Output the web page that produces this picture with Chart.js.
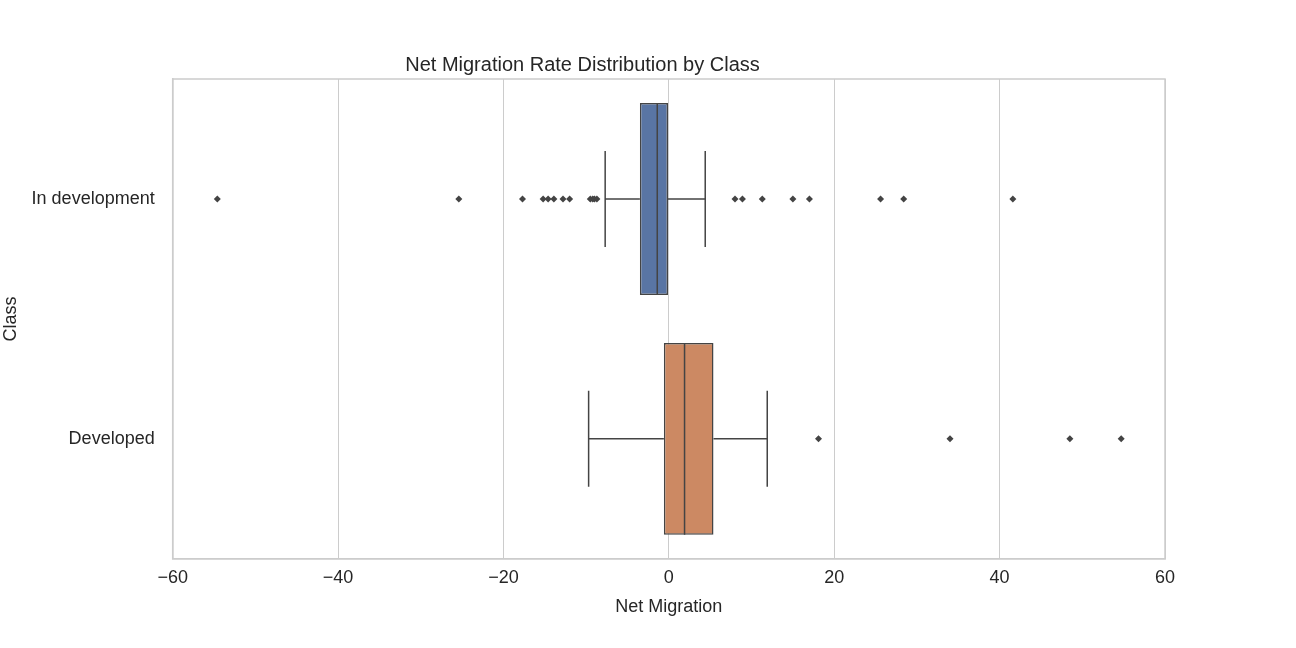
<!DOCTYPE html>
<html><head><script src="https://cdn.jsdelivr.net/npm/chart.js@4"></script>
<style>body{margin:0;background:#fff}#w{width:1296px;height:648px}</style></head>
<body><div id="w"><canvas id="c"></canvas></div>
<script>
const categories = ['In development', 'Developed'];
const q1 = [-3.5, -0.6];
const medians = [-1.4, 1.9];
const q3 = [-0.1, 5.4];
const whiskLo = [-7.7, -9.7];
const whiskHi = [4.4, 11.9];
const outliersDev = [-54.6, -25.4, -17.7, -15.2, -14.6, -13.9, -12.8, -12.0, -9.5, -9.2, -9.0, -8.7, 8.0, 8.9, 11.3, 15.0, 17.0, 25.6, 28.4, 41.6];
const outliersDeveloped = [18.1, 34.0, 48.5, 54.7];
const colors = ['#5975a4', '#cc8963'];
const edge = '#444444';
const F = 'Arial, Liberation Sans';

const boxPlugin = {
  id: 'boxExtras',
  afterDatasetsDraw(chart) {
    const ctx = chart.ctx, x = chart.scales.x, y = chart.scales.y;
    const meta = chart.getDatasetMeta(0);
    ctx.save();
    ctx.strokeStyle = edge; ctx.lineWidth = 1.5;
    categories.forEach((c, i) => {
      const bar = meta.data[i];
      const yc = y.getPixelForValue(i);
      const h = bar.height / 2;
      ctx.beginPath();
      ctx.moveTo(x.getPixelForValue(medians[i]), yc - h);
      ctx.lineTo(x.getPixelForValue(medians[i]), yc + h);
      ctx.moveTo(x.getPixelForValue(whiskLo[i]), yc);
      ctx.lineTo(x.getPixelForValue(q1[i]), yc);
      ctx.moveTo(x.getPixelForValue(q3[i]), yc);
      ctx.lineTo(x.getPixelForValue(whiskHi[i]), yc);
      const cap = h / 2;
      ctx.moveTo(x.getPixelForValue(whiskLo[i]), yc - cap);
      ctx.lineTo(x.getPixelForValue(whiskLo[i]), yc + cap);
      ctx.moveTo(x.getPixelForValue(whiskHi[i]), yc - cap);
      ctx.lineTo(x.getPixelForValue(whiskHi[i]), yc + cap);
      ctx.stroke();
    });
    ctx.restore();
  }
};

new Chart(document.getElementById('c'), {
  data: {
    labels: categories,
    datasets: [
      { type: 'bar', data: q1.map((v, i) => [v, q3[i]]), backgroundColor: colors,
        borderColor: edge, borderWidth: 1.5, borderSkipped: false,
        barPercentage: 0.8, categoryPercentage: 1 },
      { type: 'scatter', data: outliersDev.map(v => ({x: v, y: categories[0]}))
          .concat(outliersDeveloped.map(v => ({x: v, y: categories[1]}))),
        pointStyle: 'rectRot', radius: 3.5, backgroundColor: edge, borderColor: edge, borderWidth: 0 }
    ]
  },
  options: {
    indexAxis: 'y', responsive: true, maintainAspectRatio: false, animation: false,
    layout: { padding: { left: 0, right: 131, top: 53, bottom: 30 } },
    plugins: {
      legend: { display: false }, tooltip: { enabled: false },
      title: { display: true, text: 'Net Migration Rate Distribution by Class',
        font: { family: F, size: 20, weight: 'normal' }, color: '#262626', padding: { top: 0, bottom: 2 } }
    },
    scales: {
      x: { type: 'linear', min: -60, max: 60,
        ticks: { stepSize: 20, color: '#262626', font: { family: F, size: 18 }, padding: 8,
          callback: v => v < 0 ? '\u2212' + Math.abs(v) : v },
        grid: { color: '#cccccc', drawTicks: false, lineWidth: 1 },
        border: { color: '#cccccc', width: 1.5 },
        title: { display: true, text: 'Net Migration', color: '#262626', font: { family: F, size: 18 }, padding: 0 } },
      y: { type: 'category', offset: true,
        ticks: { color: '#262626', font: { family: F, size: 18 }, padding: 10 },
        grid: { display: false },
        border: { color: '#cccccc', width: 1.5 },
        title: { display: true, text: 'Class', color: '#262626', font: { family: F, size: 18 }, padding: 0 } }
    }
  },
  plugins: [boxPlugin, {
    id: 'frame',
    afterDraw(chart) {
      const a = chart.chartArea, ctx = chart.ctx;
      ctx.save(); ctx.strokeStyle = '#cccccc'; ctx.lineWidth = 1.5;
      ctx.strokeRect(a.left, a.top, a.right - a.left, a.bottom - a.top);
      ctx.restore();
    }
  }]
});
</script></body></html>
